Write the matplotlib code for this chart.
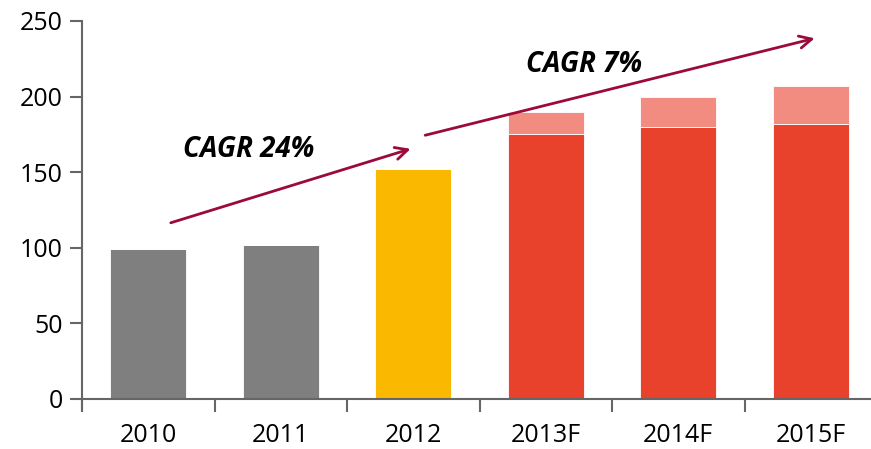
import matplotlib.pyplot as plt

plt.rcParams['font.family'] = ['Open Sans', 'DejaVu Sans']

years = ['2010', '2011', '2012', '2013F', '2014F', '2015F']
base = [99, 102, 152, 175, 180, 182]
extra = [0, 0, 0, 15, 20, 25]
colors = ['#7f7f7f', '#7f7f7f', '#fbb800', '#e8412c', '#e8412c', '#e8412c']
extra_color = '#f28c80'
arrow_color = '#9b0a3a'

fig = plt.figure(figsize=(8.71, 4.49), dpi=100)
ax = fig.add_axes([82 / 871, 50 / 449, 795 / 871, 378 / 449])

x = range(len(years))
ax.bar(x, base, width=0.575, color=colors, edgecolor='white', linewidth=0.6, zorder=2)
ax.bar(x, extra, bottom=base, width=0.575, color=extra_color, edgecolor='white', linewidth=0.6, zorder=2)

ax.set_xlim(-0.5, len(years) - 0.5)
ax.set_ylim(0, 250)
ax.set_yticks([0, 50, 100, 150, 200, 250])
ax.set_xticks([i - 0.5 for i in range(len(years) + 1)], minor=False)
ax.set_xticklabels([])
ax.set_xticks(list(x), minor=True)
ax.set_xticklabels(years, minor=True)
ax.tick_params(axis='x', which='major', direction='out', length=9, width=1.5, color='#666666')
ax.tick_params(axis='x', which='minor', length=0, pad=17, labelsize=18)
ax.tick_params(axis='y', direction='out', length=9, width=1.5, color='#666666', labelsize=18, pad=5)

for s in ['top', 'right']:
    ax.spines[s].set_visible(False)
for s in ['left', 'bottom']:
    ax.spines[s].set_color('#666666')
    ax.spines[s].set_linewidth(1.5)
ax.spines['left'].set_bounds(-6, 250)
ax.spines['bottom'].set_position(('data', 0))

# CAGR arrows
ax.annotate('', xy=(2.0, 166), xytext=(0.15, 116),
            arrowprops=dict(arrowstyle='->', color=arrow_color, lw=2, mutation_scale=22))
ax.annotate('', xy=(5.05, 239), xytext=(2.07, 174),
            arrowprops=dict(arrowstyle='->', color=arrow_color, lw=2, mutation_scale=22))
ax.text(0.76, 165, 'CAGR 24%', fontsize=20, fontweight='bold', fontstyle='italic', ha='center', va='center')
ax.text(3.29, 221, 'CAGR 7%', fontsize=20, fontweight='bold', fontstyle='italic', ha='center', va='center')

fig.savefig('out.png', dpi=100)
